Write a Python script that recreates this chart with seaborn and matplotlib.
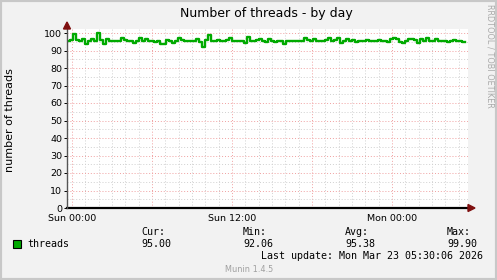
import numpy as np
import pandas as pd
import matplotlib
matplotlib.use("Agg")
import matplotlib.pyplot as plt
import seaborn as sns

# ---- data ----
threads = [
    95.5, 95.8, 99.2, 96.0, 95.5, 96.3, 93.8, 95.6, 96.8, 95.7, 99.9, 96.2, 94.0, 96.5, 95.5, 95.4, 95.6,
    95.2, 97.0, 95.8, 95.4, 95.3, 94.2, 95.5, 97.3, 95.6, 96.6, 95.3, 95.6, 94.8, 95.5, 94.0, 93.5, 95.8,
    95.2, 94.2, 95.5, 97.0, 95.8, 95.4, 95.6, 95.3, 95.5, 96.5, 95.0, 92.1, 95.8, 98.8, 95.6, 95.4, 96.2,
    95.3, 95.5, 95.8, 97.2, 95.5, 95.2, 95.6, 95.4, 94.5, 97.5, 95.5, 95.3, 95.8, 96.5, 95.4, 94.8, 96.8,
    95.2, 94.8, 95.6, 95.2, 93.5, 95.6, 95.3, 95.4, 95.5, 95.3, 95.6, 97.2, 95.8, 95.5, 96.8, 95.5, 95.2,
    95.4, 96.0, 97.2, 95.3, 95.8, 97.0, 94.5, 95.2, 96.8, 95.5, 96.2, 95.0, 95.4, 95.6, 95.3, 96.2, 95.4,
    95.2, 95.5, 96.2, 95.3, 95.5, 95.0, 96.5, 97.0, 96.3, 94.8, 94.2, 95.5, 96.8, 96.5, 95.8, 94.5, 96.6,
    95.5, 97.0, 95.4, 95.6, 96.5, 95.3, 95.2, 95.5, 94.8, 95.4, 96.2, 95.3, 95.4, 95.1, 95.0,
]
x_start_h = -0.375
x_end_h = 29.7
hours = np.linspace(x_start_h, x_end_h - 0.2, len(threads))
xtick_pos = [0, 12, 24]
xtick_labels = ["Sun 00:00", "Sun 12:00", "Mon 00:00"]
ytick_vals = list(range(0, 101, 10))
stats_labels = ["Cur:", "Min:", "Avg:", "Max:"]
stats_values = ["95.00", "92.06", "95.38", "99.90"]

df = pd.DataFrame({"hour": hours, "threads": threads})

W, H = 497, 280
BG = "#F2F2F2"
GREEN = "#00AA00"
fig = plt.figure(figsize=(W / 100, H / 100), dpi=100, facecolor=BG)

def px(x, y):
    return x / W, 1 - y / H

L, R, T, B = 67, 468, 29, 208
ax = fig.add_axes([L / W, 1 - B / H, (R - L) / W, (B - T) / H])
ax.set_facecolor("white")

ax.set_xlim(x_start_h, x_end_h)
ax.set_ylim(0, (B - T) / 1.75)

# grid
for h in np.arange(0, 30, 1):
    col = "#F0A0A0" if h % 6 == 0 else "#D0D0D0"
    ax.axvline(h, color=col, lw=0.7, ls=(0, (1, 2)), zorder=0)
for v in range(5, 101, 5):
    col = "#F0A0A0" if v % 10 == 0 else "#D0D0D0"
    ax.axhline(v, color=col, lw=0.7, ls=(0, (1, 2)), zorder=0)

sns.lineplot(data=df, x="hour", y="threads", ax=ax, color=GREEN, lw=1.7,
             drawstyle="steps-post", legend=False, zorder=3)

for s in ax.spines.values():
    s.set_visible(False)
ax.axhline(0, color="black", lw=1.6, zorder=4, clip_on=False)
ax.axvline(x_start_h, color="#555555", lw=1.0, zorder=4, clip_on=False)

ax.set_xticks(xtick_pos)
ax.set_xticklabels(xtick_labels)
ax.set_yticks(ytick_vals)
ax.set_yticklabels([str(v) for v in ytick_vals])
ax.tick_params(axis="both", labelsize=6.8, colors="#000000", length=2, width=0.7, pad=1.5)
ax.tick_params(axis="x", length=0, pad=4)
ax.set_xlabel("")
ax.set_ylabel("")
fig.text(*px(10, 120), "number of threads", rotation=90, ha="center", va="center",
         fontsize=8.0, family="DejaVu Sans")

# arrows
fig.patches.append(matplotlib.patches.Polygon(
    [px(R, B - 3.5), px(R, B + 3.5), px(R + 7, B)], closed=True,
    transform=fig.transFigure, color="#7F1010", zorder=5))
fig.patches.append(matplotlib.patches.Polygon(
    [px(L - 3.5, T), px(L + 3.5, T), px(L, T - 7)], closed=True,
    transform=fig.transFigure, color="#7F1010", zorder=5))

# title
fig.text(*px(266, 13), "Number of threads - by day", ha="center", va="center",
         fontsize=9.0, family="DejaVu Sans")

# right vertical credit
fig.text(*px(490, 56), "RRDTOOL / TOBI OETIKER", rotation=270, ha="center", va="center",
         fontsize=5.9, color="#AAAAAA", family="DejaVu Sans")

# legend
mono = "DejaVu Sans Mono"
fs = 7.2
fig.patches.append(matplotlib.patches.Rectangle(
    px(13, 248), 8 / W, 8 / H, transform=fig.transFigure,
    facecolor=GREEN, edgecolor="black", lw=0.8))
fig.text(*px(27, 244), "threads", ha="left", va="center", fontsize=fs, family=mono)
for xs, lab, val in zip([141, 243, 345, 447], stats_labels, stats_values):
    fig.text(*px(xs, 232), lab, ha="left", va="center", fontsize=fs, family=mono)
    fig.text(*px(xs, 244), val, ha="left", va="center", fontsize=fs, family=mono)
fig.text(*px(483, 256), "Last update: Mon Mar 23 05:30:06 2026", ha="right", va="center",
         fontsize=fs, family=mono)
fig.text(*px(249, 269), "Munin 1.4.5", ha="center", va="center", fontsize=5.9,
         color="#A0A0A0", family="DejaVu Sans")

# frame
fig.patches.append(matplotlib.patches.Rectangle((0, 0), 1, 1, transform=fig.transFigure,
                   fill=False, edgecolor="#C8C8C8", lw=3))

fig.savefig("out.png", dpi=100, facecolor=BG)
